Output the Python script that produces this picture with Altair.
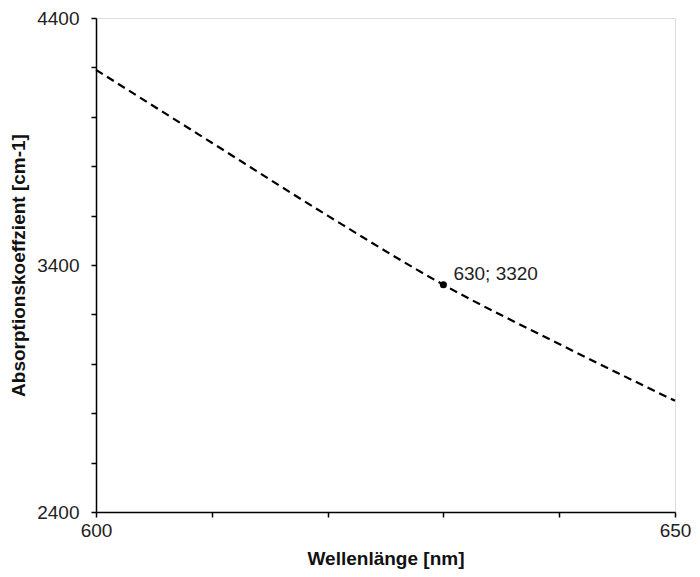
import altair as alt
import pandas as pd

wavelength = [600, 610, 620, 630, 640, 650]
absorption = [4190, 3895, 3600, 3320, 3080, 2850]
point_x = [630]
point_y = [3320]
point_label = ["630; 3320"]

line_df = pd.DataFrame({"x": wavelength, "y": absorption})
pt_df = pd.DataFrame({"x": point_x, "y": point_y, "label": point_label})

FONT = "Liberation Sans"

xscale = alt.Scale(domain=[600, 650], nice=False, zero=False)
yscale = alt.Scale(domain=[2400, 4400], nice=False, zero=False)

xaxis = alt.Axis(
    title="Wellenlänge [nm]",
    values=[600, 610, 620, 630, 640, 650],
    labelExpr="(datum.value == 600 || datum.value == 650) ? datum.label : ''",
    grid=False, tickSize=5, tickColor="black", tickWidth=1.5,
    domainColor="black", domainWidth=1.5,
    labelFont=FONT, labelFontSize=19, labelColor="#222", labelPadding=4,
    titleFont=FONT, titleFontSize=19, titleFontWeight="bold", titleColor="#111",
    titlePadding=9, labelFlush=False, format="d",
)
yaxis = alt.Axis(
    title="Absorptionskoeffzient [cm-1]",
    values=list(range(2400, 4401, 200)),
    labelExpr="((datum.value - 2400) % 1000 == 0) ? datum.label : ''",
    grid=False, tickSize=5, tickColor="black", tickWidth=1.5,
    domainColor="black", domainWidth=1.5,
    labelFont=FONT, labelFontSize=19, labelColor="#222", labelPadding=12,
    titleFont=FONT, titleFontSize=19, titleFontWeight="bold", titleColor="#111",
    titlePadding=8, labelFlush=False, format="d",
)

line = alt.Chart(line_df).mark_line(
    color="black", strokeDash=[8, 5], strokeWidth=2.2, interpolate="monotone"
).encode(
    x=alt.X("x:Q", scale=xscale, axis=xaxis),
    y=alt.Y("y:Q", scale=yscale, axis=yaxis),
)

pt = alt.Chart(pt_df).mark_circle(color="black", size=50, opacity=1).encode(
    x=alt.X("x:Q", scale=xscale),
    y=alt.Y("y:Q", scale=yscale),
)

txt = alt.Chart(pt_df).mark_text(
    align="left", baseline="middle", dx=10, dy=-11, font=FONT, fontSize=19, color="#222"
).encode(
    x=alt.X("x:Q", scale=xscale),
    y=alt.Y("y:Q", scale=yscale),
    text="label:N",
)

chart = alt.layer(line, pt, txt).properties(
    width=579, height=494,
    autosize=alt.AutoSizeParams(type="none"),
    padding={"left": 88, "top": 10, "right": 17, "bottom": 60},
).configure_view(stroke=None).configure(background="white")

chart.save("out.html", embed_options={"renderer": "svg", "actions": False})
